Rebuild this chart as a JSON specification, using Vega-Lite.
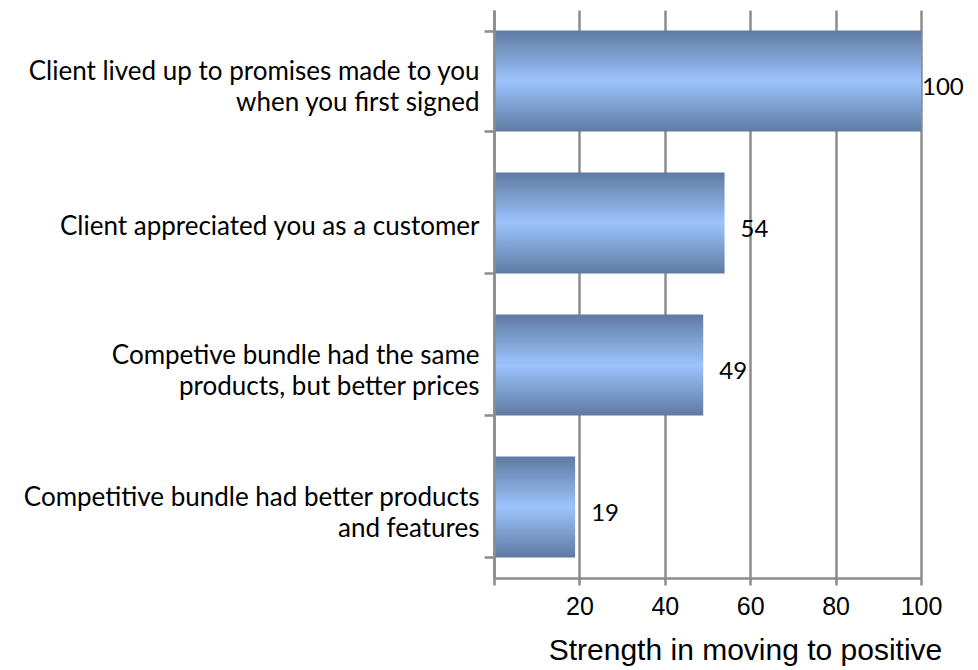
{
  "$schema": "https://vega.github.io/schema/vega-lite/v6.json",
  "autosize": "none",
  "padding": {"left": 494, "top": 10, "right": 57, "bottom": 92},
  "width": 427,
  "height": 568,
  "background": "white",
  "config": {"view": {"stroke": null}},
  "data": {
    "values": [
      {"cause": "Client lived up to promises made to you\u2009\u200a\nwhen you first signed", "strength": 100},
      {"cause": "Client appreciated you as a customer", "strength": 54},
      {"cause": "Competive bundle had the same\u2009\u200a\nproducts, but better prices", "strength": 49},
      {"cause": "Competitive bundle had better products\u2009\u200a\nand features", "strength": 19}
    ]
  },
  "encoding": {
    "y": {
      "field": "cause",
      "type": "nominal",
      "sort": null,
      "scale": {"paddingInner": 0.29, "paddingOuter": 0.145},
      "axis": {
        "title": null,
        "labelExpr": "isValid(datum.value) ? split(datum.value, '\\n') : ''",
        "labelFont": "Lato",
        "labelFontSize": 26,
        "labelColor": "#000000",
        "labelLineHeight": 31,
        "labelPadding": 5,
        "labelLimit": 600,
        "labelOffset": {
          "condition": {"test": "isValid(datum.value) && indexof(datum.value, '\\n') >= 0", "value": -10},
          "value": 3
        },
        "tickBand": "extent",
        "tickSize": 10,
        "tickColor": "#8c8c8c",
        "tickWidth": 2.5,
        "domainColor": "#8c8c8c",
        "domainWidth": 2.5,
        "grid": false,
        "zindex": 1
      }
    },
    "x": {
      "field": "strength",
      "type": "quantitative",
      "scale": {"domain": [0, 100], "nice": false},
      "axis": {
        "title": "Strength in moving to positive",
        "titleFont": "Liberation Sans",
        "titleFontSize": 30,
        "titleFontWeight": "normal",
        "titleColor": "#000000",
        "titlePadding": 16,
        "titleX": 251,
        "values": [0, 20, 40, 60, 80, 100],
        "labelExpr": "datum.value == 0 ? '' : datum.label",
        "labelFlush": false,
        "labelFont": "Liberation Sans",
        "labelFontSize": 25,
        "labelColor": "#000000",
        "labelPadding": 9,
        "tickSize": 7,
        "tickColor": "#8c8c8c",
        "tickWidth": 2.5,
        "domainColor": "#8c8c8c",
        "domainWidth": 2.5,
        "grid": true,
        "gridColor": "#8c8c8c",
        "gridWidth": 2.5,
        "zindex": 0
      }
    }
  },
  "layer": [
    {
      "mark": {
        "type": "bar",
        "color": {
          "gradient": "linear",
          "x1": 0, "y1": 0, "x2": 0, "y2": 1,
          "stops": [
            {"offset": 0, "color": "#5f7aa2"},
            {"offset": 0.5, "color": "#9cc4fd"},
            {"offset": 1, "color": "#5f7aa2"}
          ]
        }
      }
    },
    {
      "transform": [{"filter": "datum.strength < 100"}],
      "mark": {"type": "text", "align": "left", "baseline": "middle", "dx": 16, "dy": 7, "font": "Lato", "fontSize": 24, "color": "#000000"},
      "encoding": {"text": {"field": "strength", "type": "quantitative"}}
    },
    {
      "transform": [{"filter": "datum.strength >= 100"}],
      "mark": {"type": "text", "align": "left", "baseline": "middle", "dx": 1, "dy": 7, "font": "Lato", "fontSize": 24, "color": "#000000"},
      "encoding": {"text": {"field": "strength", "type": "quantitative"}}
    }
  ]
}
